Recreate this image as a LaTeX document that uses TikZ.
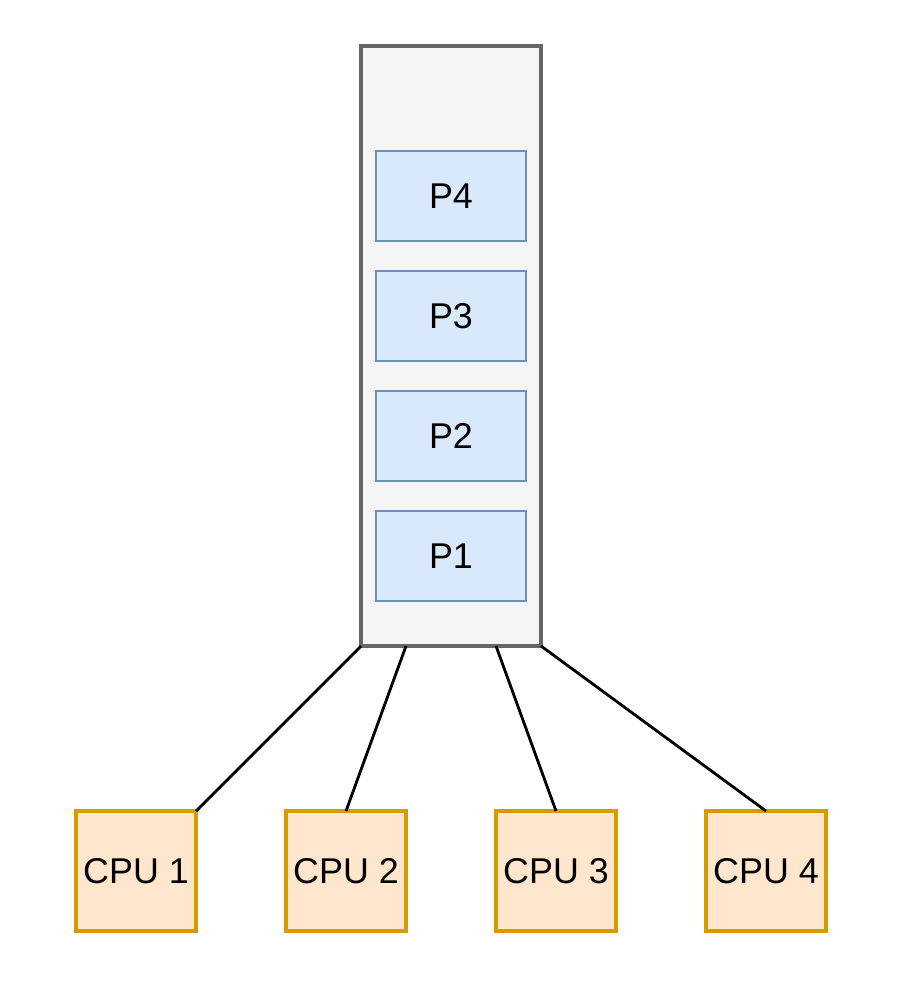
\documentclass[tikz,border=0pt]{standalone}
\usepackage{fontspec}
\setmainfont{Liberation Sans}
\usetikzlibrary{positioning, calc}

\definecolor{queuefill}{HTML}{F5F5F5}
\definecolor{queuedraw}{HTML}{666666}
\definecolor{procfill}{HTML}{DAE8FC}
\definecolor{procdraw}{HTML}{6C8EBF}
\definecolor{cpufill}{HTML}{FFE6CC}
\definecolor{cpudraw}{HTML}{D79B00}

\begin{document}
\begin{tikzpicture}[node distance=0.6cm and 1.8cm]

\tikzset{
  queue/.style={
    rectangle, draw=queuedraw, fill=queuefill, line width=1.8pt,
    minimum width=3.6cm, minimum height=12cm, inner sep=0pt, outer sep=0pt
  },
  proc/.style={
    rectangle, draw=procdraw, fill=procfill, line width=1.3pt,
    minimum width=3cm, minimum height=1.8cm, inner sep=0pt, outer sep=0pt,
    font=\fontsize{20.4}{24}\selectfont
  },
  cpu/.style={
    rectangle, draw=cpudraw, fill=cpufill, line width=1.8pt,
    minimum width=2.4cm, minimum height=2.4cm, inner sep=0pt, outer sep=0pt,
    font=\fontsize{20.4}{24}\selectfont
  },
  link/.style={draw=black, line width=1.6pt}
}

\useasboundingbox (0,0) rectangle (18.12,-19.92);

% ==========================
% Ready queue with processes
% ==========================
\node[queue] (queue) at (9.02,-6.92) {};

\node[proc] (p4) at (9.02,-3.92) {P4};
\node[proc, below=of p4] (p3) {P3};
\node[proc, below=of p3] (p2) {P2};
\node[proc, below=of p2] (p1) {P1};

% ==========================
% CPUs (left -> right)
% ==========================
\node[cpu] (cpu1) at (2.72,-17.42) {CPU 1};
\node[cpu, right=of cpu1] (cpu2) {CPU 2};
\node[cpu, right=of cpu2] (cpu3) {CPU 3};
\node[cpu, right=of cpu3] (cpu4) {CPU 4};

% ==========================
% Queue -> CPU links
% ==========================
\draw[link] (queue.south west) -- (cpu1.north east);
\draw[link] ($(queue.south west)!0.25!(queue.south east)$) -- (cpu2.north);
\draw[link] ($(queue.south west)!0.75!(queue.south east)$) -- (cpu3.north);
\draw[link] (queue.south east) -- (cpu4.north);

\end{tikzpicture}
\end{document}
